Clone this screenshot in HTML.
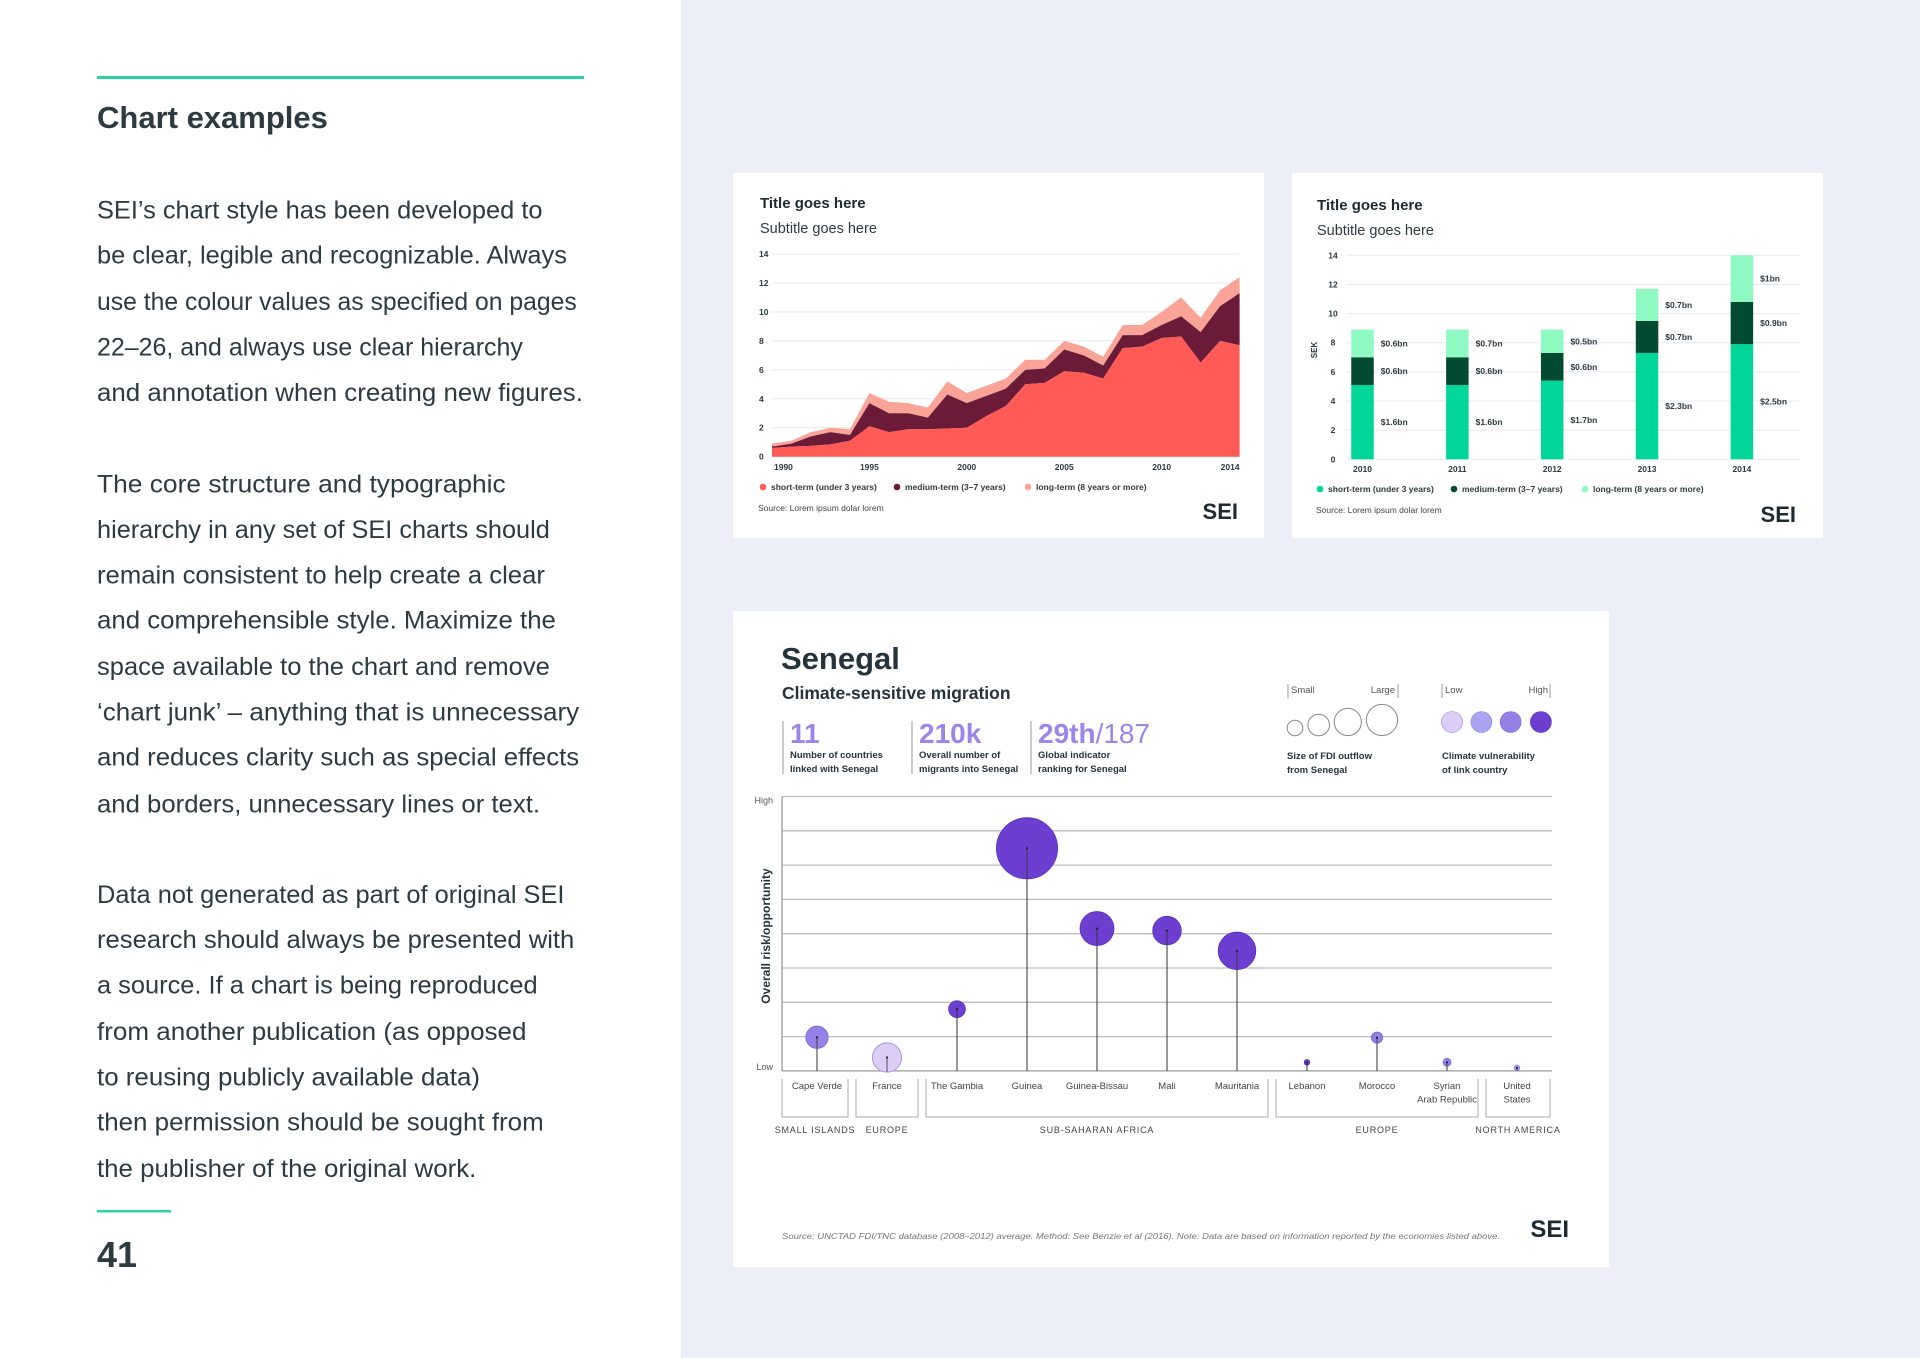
<!DOCTYPE html>
<html><head><meta charset="utf-8"><style>
html,body{margin:0;padding:0;background:#fff}
svg{display:block;font-family:"Liberation Sans",sans-serif}
</style></head><body>
<svg id="root" width="1920" height="1358" viewBox="0 0 1920 1358" xmlns="http://www.w3.org/2000/svg">
<rect x="0" y="0" width="1920" height="1358" fill="#fff"/>
<rect x="681" y="0" width="1239" height="1358" fill="#eceff8"/>
<g fill="#2d3a40">
<rect x="97" y="76" width="487" height="3" fill="#2bd3a3"/>
<text x="97" y="128" font-size="31" font-weight="bold">Chart examples</text>
<g id="bodytext" font-size="25"></g>
<rect x="97" y="1210" width="74" height="2.5" fill="#2bd3a3"/>
<text x="97" y="1267" font-size="36" font-weight="bold">41</text>
</g>

<g>
<rect x="733" y="173" width="531" height="365" fill="#fff"/>
<text x="760" y="208" font-size="15" font-weight="bold" fill="#1e2a30">Title goes here</text>
<text x="760" y="233" font-size="14.5" fill="#2d3a40">Subtitle goes here</text>
<g id="area"></g>
<g font-size="8.5" font-weight="bold" fill="#2d3a40">
<circle cx="763" cy="487" r="3.3" fill="#ff5a55"/><text x="771" y="490">short-term (under 3 years)</text>
<circle cx="897" cy="487" r="3.3" fill="#6b1b38"/><text x="905" y="490">medium-term (3–7 years)</text>
<circle cx="1028" cy="487" r="3.3" fill="#f9a497"/><text x="1036" y="490">long-term (8 years or more)</text>
</g>
<text x="758" y="511" font-size="8.5" fill="#444">Source: Lorem ipsum dolar lorem</text>
<text x="1238" y="519" font-size="22" font-weight="bold" fill="#1e2a30" text-anchor="end">SEI</text>
</g>

<g>
<rect x="1292" y="173" width="531" height="365" fill="#fff"/>
<text x="1317" y="210" font-size="15" font-weight="bold" fill="#1e2a30">Title goes here</text>
<text x="1317" y="235" font-size="14.5" fill="#2d3a40">Subtitle goes here</text>
<text transform="translate(1317,350) rotate(-90)" font-size="8" font-weight="bold" fill="#2d3a40" text-anchor="middle">SEK</text>
<g id="bar"></g>
<g font-size="8.5" font-weight="bold" fill="#2d3a40">
<circle cx="1320" cy="489" r="3.3" fill="#00d59a"/><text x="1328" y="492">short-term (under 3 years)</text>
<circle cx="1454" cy="489" r="3.3" fill="#034a33"/><text x="1462" y="492">medium-term (3–7 years)</text>
<circle cx="1585" cy="489" r="3.3" fill="#8ef9c1"/><text x="1593" y="492">long-term (8 years or more)</text>
</g>
<text x="1316" y="513" font-size="8.5" fill="#444">Source: Lorem ipsum dolar lorem</text>
<text x="1796" y="522" font-size="22" font-weight="bold" fill="#1e2a30" text-anchor="end">SEI</text>
</g>

<g>
<rect x="733" y="611" width="876" height="656" fill="#fff"/>
<text x="781" y="669" font-size="31" font-weight="bold" fill="#26333a">Senegal</text>
<text x="782" y="699" font-size="17.5" font-weight="bold" fill="#26333a">Climate-sensitive migration</text>
<g fill="#26333a" font-size="9.5" font-weight="bold">
<line x1="783" y1="721" x2="783" y2="774" stroke="#999" stroke-width="1"/>
<line x1="912" y1="721" x2="912" y2="774" stroke="#999" stroke-width="1"/>
<line x1="1031" y1="721" x2="1031" y2="774" stroke="#999" stroke-width="1"/>
<text x="790" y="743" font-size="28" fill="#9c84ea">11</text>
<text x="790" y="758">Number of countries</text><text x="790" y="772">linked with Senegal</text>
<text x="919" y="743" font-size="28" fill="#9c84ea">210k</text>
<text x="919" y="758">Overall number of</text><text x="919" y="772">migrants into Senegal</text>
<text x="1038" y="743" font-size="28" fill="#9c84ea">29th<tspan font-weight="normal">/187</tspan></text>
<text x="1038" y="758">Global indicator</text><text x="1038" y="772">ranking for Senegal</text>
</g>
<g font-size="9.5" fill="#555">
<path d="M1288 698 V684 M1398 698 V684" stroke="#999" fill="none"/>
<text x="1291" y="693">Small</text><text x="1395" y="693" text-anchor="end">Large</text>
<circle cx="1295" cy="728" r="7.8" fill="none" stroke="#888"/>
<circle cx="1318.7" cy="725" r="10.8" fill="none" stroke="#888"/>
<circle cx="1347.8" cy="722" r="13.6" fill="none" stroke="#888"/>
<circle cx="1382" cy="720" r="15.6" fill="none" stroke="#888"/>
<text x="1287" y="759" font-weight="bold" fill="#26333a">Size of FDI outflow</text>
<text x="1287" y="773" font-weight="bold" fill="#26333a">from Senegal</text>
</g>
<g font-size="9.5" fill="#555">
<path d="M1442 698 V684 M1550 698 V684" stroke="#999" fill="none"/>
<text x="1445" y="693">Low</text><text x="1548" y="693" text-anchor="end">High</text>
<circle cx="1452" cy="722" r="10.5" fill="#dccdf7" stroke="#9a88d8" stroke-width="0.6"/>
<circle cx="1481.4" cy="722" r="10.5" fill="#aaa3f2" stroke="#8a80d8" stroke-width="0.6"/>
<circle cx="1510.6" cy="722" r="10.5" fill="#9580e8" stroke="#7a66d0" stroke-width="0.6"/>
<circle cx="1540.9" cy="722" r="10.5" fill="#6c3fd1" stroke="#5a30b8" stroke-width="0.6"/>
<text x="1442" y="759" font-weight="bold" fill="#26333a">Climate vulnerability</text>
<text x="1442" y="773" font-weight="bold" fill="#26333a">of link country</text>
</g>
<g id="bubble"></g>
<text x="782" y="1239" font-size="8" font-style="italic" fill="#777" textLength="718" lengthAdjust="spacingAndGlyphs">Source: UNCTAD FDI/TNC database (2008–2012) average.     Method: See Benzie et al (2016).     Note: Data are based on information reported by the economies listed above.</text>
<text x="1569" y="1237" font-size="24" font-weight="bold" fill="#1e2a30" text-anchor="end">SEI</text>
</g>
</svg>
<script>
var NS="http://www.w3.org/2000/svg";
function mk(tag,attrs,parent){var e=document.createElementNS(NS,tag);for(var k in attrs)e.setAttribute(k,attrs[k]);parent.appendChild(e);return e;}

/* ---------- left body text ---------- */
var bodyLines=["SEI’s chart style has been developed to","be clear, legible and recognizable. Always","use the colour values as specified on pages","22–26, and always use clear hierarchy","and annotation when creating new figures.","The core structure and typographic","hierarchy in any set of SEI charts should","remain consistent to help create a clear","and comprehensible style. Maximize the","space available to the chart and remove","‘chart junk’ – anything that is unnecessary","and reduces clarity such as special effects","and borders, unnecessary lines or text.","Data not generated as part of original SEI","research should always be presented with","a source. If a chart is being reproduced","from another publication (as opposed","to reusing publicly available data)","then permission should be sought from","the publisher of the original work."];
var bodyY=[171,208,246,283,320,395,432,469,506,544,581,618,656,730,767,804,842,879,916,954];
var bodyEnd=[443,463,471,427,476,413,449,445,454,449,473,473,441,461,469,439,430,392,444,389];
var bt=document.getElementById('bodytext');
for(var i=0;i<bodyLines.length;i++){
  var t=mk('text',{x:97,y:(bodyY[i]*1.2245+9).toFixed(1),textLength:(bodyEnd[i]*1.2245-97).toFixed(1),lengthAdjust:'spacingAndGlyphs'},bt);
  
  
  t.textContent=bodyLines[i];
}

/* ---------- area chart ---------- */
var areaYears=[1990,1991,1992,1993,1994,1995,1996,1997,1998,1999,2000,2001,2002,2003,2004,2005,2006,2007,2008,2009,2010,2011,2012,2013,2014];
var areaShort=[0.6,0.7,0.75,0.85,1.1,2.1,1.7,1.9,1.9,1.95,2.0,2.8,3.5,5.0,5.1,5.9,5.8,5.4,7.5,7.6,8.2,8.3,6.5,8.0,7.7];
var areaMedium=[0.1,0.2,0.65,0.85,0.4,1.6,1.3,1.1,0.8,2.35,1.7,1.4,1.2,1.0,1.0,1.5,1.2,0.9,0.9,0.8,0.9,1.4,2.1,2.4,3.6];
var areaLong=[0.2,0.2,0.3,0.3,0.4,0.7,0.8,0.7,0.7,0.9,0.7,0.7,0.7,0.7,0.6,0.6,0.6,0.6,0.7,0.7,0.9,1.3,1.0,1.1,1.1];
var areaYTicks=[0,2,4,6,8,10,12,14];
var areaXTicks=[1990,1995,2000,2005,2010,2014];
(function(){
  var g=document.getElementById('area');
  var x0=772,x1=1239.6,y0=456.7,y1=254;
  function X(yr){return x0+(yr-areaYears[0])/(areaYears[areaYears.length-1]-areaYears[0])*(x1-x0);}
  function Y(v){return y0-(v/14)*(y0-y1);}
  areaYTicks.forEach(function(v){
    var l=mk('line',{x1:x0,x2:x1,y1:Y(v),y2:Y(v),stroke:'#e6e8ef','stroke-width':1},g);
    
    
    var t=mk('text',{x:759,y:Y(v)+3,'font-size':8.5,'font-weight':'bold',fill:'#2d3a40'},g);
    
    
    t.textContent=v;
  });
  var n=areaYears.length,c1=[],c2=[],c3=[];
  for(var i=0;i<n;i++){c1.push(areaShort[i]);c2.push(areaShort[i]+areaMedium[i]);c3.push(areaShort[i]+areaMedium[i]+areaLong[i]);}
  function band(lo,hi){
    var d='M'+X(areaYears[0])+' '+Y(hi[0]);
    for(var i=1;i<n;i++)d+=' L'+X(areaYears[i])+' '+Y(hi[i]);
    for(var i=n-1;i>=0;i--)d+=' L'+X(areaYears[i])+' '+Y(lo?lo[i]:0);
    return d+'Z';
  }
  var p3=mk('path',{d:band(c2,c3),fill:'#f9a497'},g);
  
  
  var p2=mk('path',{d:band(c1,c2),fill:'#6b1b38'},g);
  
  
  var p1=mk('path',{d:band(null,c1),fill:'#ff5a55'},g);
  
  
  areaXTicks.forEach(function(yr,i){
    var anc=i===0?'start':(i===areaXTicks.length-1?'end':'middle');
    var t=mk('text',{x:X(yr)+(i===0?2:0),y:470,'font-size':8.5,'font-weight':'bold',fill:'#2d3a40','text-anchor':anc},g);
    
    
    t.textContent=yr;
  });
})();

/* ---------- bar chart ---------- */
var barYears=["2010","2011","2012","2013","2014"];
var barShort=[5.1,5.1,5.4,7.3,7.9];
var barMedium=[1.9,1.9,1.9,2.2,2.9];
var barLong=[1.9,1.9,1.6,2.2,3.2];
var barShortLbl=["$1.6bn","$1.6bn","$1.7bn","$2.3bn","$2.5bn"];
var barMediumLbl=["$0.6bn","$0.6bn","$0.6bn","$0.7bn","$0.9bn"];
var barLongLbl=["$0.6bn","$0.7bn","$0.5bn","$0.7bn","$1bn"];
var barYTicks=[0,2,4,6,8,10,12,14];
(function(){
  var g=document.getElementById('bar');
  var y0=459.3,y1=255.3,gx0=1347,gx1=1800,first=1362.5,step=94.85,bw=22.5;
  function Y(v){return y0-(v/14)*(y0-y1);}
  function X(i){return first+i*step;}
  barYTicks.forEach(function(v){
    var l=mk('line',{x1:gx0,x2:gx1,y1:Y(v),y2:Y(v),stroke:'#e6e8ef','stroke-width':1},g);
    
    
    var t=mk('text',{x:1333,y:Y(v)+3,'font-size':8.5,'font-weight':'bold',fill:'#2d3a40','text-anchor':'middle'},g);
    
    
    t.textContent=v;
  });
  var series=[[barShort,'#00d59a',barShortLbl,'short'],[barMedium,'#034a33',barMediumLbl,'medium'],[barLong,'#8ef9c1',barLongLbl,'long']];
  barYears.forEach(function(yr,i){
    var base=0;
    series.forEach(function(s){
      var v=s[0][i];
      var r=mk('rect',{x:X(i)-bw/2,y:Y(base+v),width:bw,height:Y(base)-Y(base+v),fill:s[1]},g);
      
      
      var t=mk('text',{x:X(i)+bw/2+7,y:Y(base+v/2)+3,'font-size':8.5,'font-weight':'bold',fill:'#2d3a40'},g);
      
      
      t.textContent=s[2][i];
      base+=v;
    });
    var t=mk('text',{x:X(i),y:472,'font-size':8.5,'font-weight':'bold',fill:'#2d3a40','text-anchor':'middle'},g);
    
    
    t.textContent=yr;
  });
})();

/* ---------- bubble / lollipop chart ---------- */
var bubCountries=["Cape Verde","France","The Gambia","Guinea","Guinea-Bissau","Mali","Mauritania","Lebanon","Morocco","Syrian|Arab Republic","United|States"];
var bubRisk=[0.98,0.39,1.8,6.49,4.15,4.09,3.5,0.25,0.97,0.25,0.09];
var bubFdi=[11.2,14.6,8.4,30.6,17,14.3,18.8,2.8,5.6,4,2.8];
var bubVuln=[3,1,4,4,4,4,4,4,3,3,2];
var bubGroups=["SMALL ISLANDS","EUROPE","SUB-SAHARAN AFRICA","EUROPE","NORTH AMERICA"];
var bubGroupStart=[0,1,2,7,10];
var bubGroupEnd=[0,1,6,9,10];
(function(){
  var g=document.getElementById('bubble');
  var px0=782,px1=1552,y0=1070.9,unit=34.3,n=bubCountries.length,bw=(px1-px0)/n;
  var cols=['#dccdf7','#aaa3f2','#9580e8','#6c3fd1'];
  var strokes=['#9a88d8','#8a80d8','#7a66d0','#5a30b8'];
  function X(i){return px0+bw*(i+0.5);}
  function Y(v){return y0-v*unit;}
  for(var k=0;k<=8;k++){
    var l=mk('line',{x1:px0,x2:px1,y1:Y(k),y2:Y(k),stroke:k===0?'#999':'#bdbdbd','stroke-width':1.3},g);
    
    
  }
  var ax=mk('line',{x1:px0,x2:px0,y1:Y(8),y2:Y(0),stroke:'#999','stroke-width':1.3},g);
  
  
  var hi=mk('text',{x:773,y:Y(8)+7,'font-size':9,fill:'#555','text-anchor':'end'},g);
  
  
  hi.textContent='High';
  var lo=mk('text',{x:773,y:Y(0)-1,'font-size':9,fill:'#555','text-anchor':'end'},g);
  
  
  lo.textContent='Low';
  var yt=mk('text',{transform:'translate(770,936) rotate(-90)','font-size':12,'font-weight':'bold',fill:'#26333a','text-anchor':'middle'},g);
  
  
  yt.textContent='Overall risk/opportunity';
  for(var i=0;i<n;i++){
    var cx=X(i),cy=Y(bubRisk[i]);
    var st=mk('line',{x1:cx,x2:cx,y1:cy,y2:Y(0),stroke:'#333','stroke-width':1},g);
    
    
    var c=mk('circle',{cx:cx,cy:cy,r:bubFdi[i],fill:cols[bubVuln[i]-1],stroke:strokes[bubVuln[i]-1],'stroke-width':0.8},g);
    
    
    var st2=mk('line',{x1:cx,x2:cx,y1:cy,y2:cy+bubFdi[i],stroke:'#333','stroke-width':0.8},g);
    
    
    var dt=mk('circle',{cx:cx,cy:cy,r:1.1,fill:'#222'},g);
    
    
    var parts=bubCountries[i].split('|');
    parts.forEach(function(p,j){
      var t=mk('text',{x:cx,y:1089+j*13.5,'font-size':9.5,fill:'#444','text-anchor':'middle'},g);
      
      
      t.textContent=p;
    });
  }
  bubGroups.forEach(function(name,gi){
    var a=px0+bw*bubGroupStart[gi]+4,b=px0+bw*(bubGroupEnd[gi]+1)-4;
    if(gi===0)a=px0;
    if(gi===bubGroups.length-1)b=px1-2;
    var p=mk('path',{d:'M'+a+' 1079 V1117 H'+b+' V1079',fill:'none',stroke:'#aaa','stroke-width':1},g);
    
    
    var t=mk('text',{x:(a+b)/2,y:1133,'font-size':9,fill:'#444','text-anchor':'middle','letter-spacing':'0.8'},g);
    
    
    t.textContent=name;
  });
})();
</script>
</body></html>
